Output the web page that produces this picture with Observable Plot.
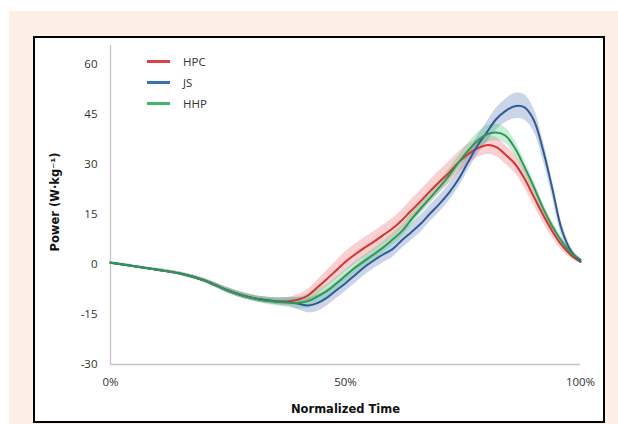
<!DOCTYPE html>
<html><head><meta charset="utf-8">
<script src="https://cdn.jsdelivr.net/npm/d3@7"></script>
<script src="https://cdn.jsdelivr.net/npm/@observablehq/plot@0.6"></script>
<style>
html,body{margin:0;padding:0;background:#fff;}
#page{position:relative;width:618px;height:424px;overflow:hidden;font-family:"Open Sans",sans-serif;}
#peach{position:absolute;left:9px;top:11px;right:0;bottom:0;background:#fdeee6;}
#box{position:absolute;left:33px;top:36px;width:568px;height:383px;border:2px solid #000;background:#fff;}
#chart{position:absolute;left:0;top:0;}
#legend{position:absolute;left:147px;top:51px;font-size:11.5px;color:#333;}
.item{display:flex;align-items:center;height:21px;}
.sw{width:23px;height:2.5px;margin-right:13px;}
</style></head><body>
<div id="page"><div id="peach"></div><div id="box"></div><div id="chart"></div><div id="legend"></div></div>
<script>
const series = ["HPC", "JS", "HHP"];
const lineColors = ["#d8322c", "#2b5c97", "#2a9a56"];
const legendColors = ["#df4046", "#3a74b0", "#3cb76c"];
const bandColors = ["rgba(240,110,115,0.32)", "rgba(95,125,180,0.32)", "rgba(70,195,120,0.30)"];
const xTicks = [0, 50, 100];
const yTicks = [-30, -15, 0, 15, 30, 45, 60];
const xTitle = "Normalized Time";
const yTitle = "Power (W·kg⁻¹)";

const times = [0,5,10,15,20,25,30,35,38,40,42,44,46,48,50,52,54,56,58,60,62,64,66,68,70,72,74,76,78,80,82,84,86,88,90,92,94,96,98,100];

const hpcMean = [0.5,-0.5,-1.6,-2.8,-4.8,-7.8,-10.0,-11.0,-11.0,-10.5,-9.3,-6.9,-4.4,-1.8,0.8,3.0,5.0,6.8,8.8,10.8,13.3,16.2,19.0,22.0,24.8,27.5,30.5,33.0,34.8,35.8,35.3,33.0,30.3,26.0,20.5,15.0,10.0,5.8,2.8,0.8];
const hpcSD = [0.3,0.3,0.4,0.5,0.6,0.8,0.9,1.0,1.2,1.5,1.8,2.2,2.5,2.8,3.0,3.0,3.0,3.0,3.0,3.0,3.0,3.2,3.3,3.3,3.3,3.3,3.2,3.0,2.8,2.8,2.8,2.8,2.8,2.8,2.6,2.4,2.0,1.5,1.0,0.5];

const jsMean = [0.5,-0.5,-1.6,-2.8,-4.8,-7.8,-10.0,-11.0,-11.3,-11.8,-12.3,-11.6,-10.0,-7.8,-5.6,-3.2,-0.8,1.2,3.0,4.6,7.3,9.7,12.2,15.3,18.2,21.5,25.5,30.5,35.5,39.5,43.5,46.0,47.5,47.2,43.5,34.5,22.8,10.5,4.0,1.0];
const jsSD = [0.3,0.3,0.4,0.5,0.6,0.8,0.9,1.0,1.3,1.8,2.2,2.5,2.5,2.5,2.5,2.5,2.5,2.5,2.5,2.5,2.5,2.5,2.5,2.5,2.5,2.5,2.5,2.5,2.8,3.0,3.3,3.5,3.8,3.8,3.5,3.0,2.5,2.0,1.2,0.5];

const hhpMean = [0.5,-0.5,-1.6,-2.8,-4.8,-7.8,-10.0,-11.2,-11.4,-11.5,-11.0,-9.6,-8.0,-5.8,-3.4,-1.0,1.0,3.0,5.1,7.5,10.0,13.5,16.8,20.0,23.2,26.6,30.5,34.0,37.0,39.0,39.6,38.7,35.0,29.5,23.5,17.0,11.5,7.0,3.5,1.5];
const hhpSD = [0.3,0.3,0.4,0.5,0.6,0.8,0.9,1.2,1.5,1.8,2.0,2.0,2.0,2.0,1.8,1.8,1.8,1.8,1.8,1.8,1.8,1.8,1.8,1.8,1.8,2.0,2.0,2.2,2.4,2.5,2.5,2.3,2.2,2.0,1.8,1.6,1.4,1.2,0.8,0.5];

const means = {HPC: hpcMean, JS: jsMean, HHP: hhpMean};
const sds = {HPC: hpcSD, JS: jsSD, HHP: hhpSD};

const rows = series.flatMap(s => times.map((t, i) => ({
  series: s, t, mean: means[s][i], lo: means[s][i] - sds[s][i], hi: means[s][i] + sds[s][i]
})));

const bands = series.map((s, k) => Plot.areaY(rows.filter(d => d.series === s), {
  x: "t", y1: "lo", y2: "hi", fill: bandColors[k], curve: "catmull-rom"
}));

const plot = Plot.plot({
  width: 618, height: 424,
  marginLeft: 110, marginRight: 38, marginTop: 45, marginBottom: 60,
  style: {background: "transparent", fontFamily: "'Open Sans', sans-serif", fontSize: "11.5px", color: "#333"},
  x: {domain: [0, 100]},
  y: {domain: [-30, 65.7]},
  color: {domain: series, range: lineColors},
  marks: [
    Plot.ruleX([0], {stroke: "#c4c4c4", strokeWidth: 1.3}),
    Plot.ruleY([-30], {stroke: "#c4c4c4", strokeWidth: 1.6}),
    ...bands,
    Plot.line(rows, {x: "t", y: "mean", z: "series", stroke: "series", strokeWidth: 2, curve: "catmull-rom"}),
    Plot.axisX({ticks: xTicks, tickSize: 0, tickPadding: 13, tickFormat: d => d + "%", label: null, fill: "#333"}),
    Plot.axisY({ticks: yTicks, tickSize: 0, tickPadding: 13, tickFormat: d => String(d), label: null, fill: "#333"}),
    Plot.text([xTitle], {frameAnchor: "bottom", dy: 48, fontWeight: "bold", fontSize: 11.5, fontFamily: "'DejaVu Sans', sans-serif", fill: "#111"}),
    Plot.text([yTitle], {frameAnchor: "left", textAnchor: "middle", dx: -55, dy: -3, rotate: -90, fontWeight: "bold", fontSize: 11.5, fontFamily: "'DejaVu Sans', sans-serif", fill: "#111"})
  ]
});
document.getElementById("chart").appendChild(plot);

const legend = document.getElementById("legend");
series.forEach((s, k) => {
  const it = document.createElement("div");
  it.className = "item";
  const sw = document.createElement("div");
  sw.className = "sw";
  sw.style.background = legendColors[k];
  const lb = document.createElement("span");
  lb.textContent = s;
  it.appendChild(sw); it.appendChild(lb);
  legend.appendChild(it);
});
</script>
</body></html>
